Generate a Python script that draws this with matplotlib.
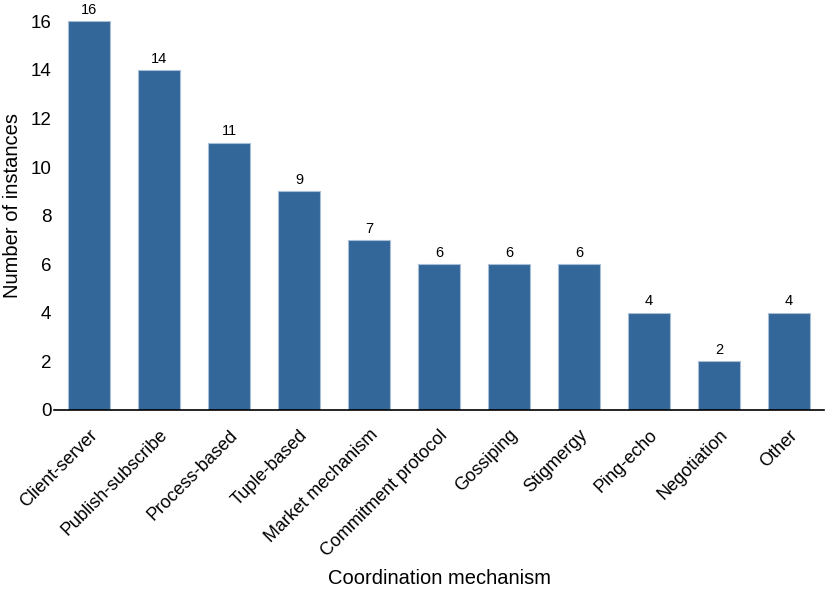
import matplotlib
matplotlib.use("Agg")
import matplotlib.pyplot as plt

plt.rcParams['font.family'] = ['Liberation Sans', 'DejaVu Sans']

mechanisms = ['Client-server', 'Publish-subscribe', 'Process-based', 'Tuple-based',
              'Market mechanism', 'Commitment protocol', 'Gossiping', 'Stigmergy',
              'Ping-echo', 'Negotiation', 'Other']
instances = [16, 14, 11, 9, 7, 6, 6, 6, 4, 2, 4]

fig = plt.figure(figsize=(8.3, 5.95), dpi=100)
ax = fig.add_axes([0.0651, 0.311, 0.9277, 0.6857])

x = range(len(mechanisms))
bars = ax.bar(x, instances, width=0.6, color='#336699', edgecolor='#a9bfd6', linewidth=0.8)

for xi, v in zip(x, instances):
    ax.text(xi, v + 0.18, str(v), ha='center', va='bottom', fontsize=10.5)

ax.set_xlim(-0.5, 10.5)
ax.set_ylim(0, 16.8)
ax.set_yticks(range(0, 17, 2))
ax.tick_params(axis='y', length=0, labelsize=13.5, pad=2)
ax.set_xticks(list(x))
ax.set_xticklabels(mechanisms, rotation=45, ha='right', rotation_mode='anchor', fontsize=13)
ax.tick_params(axis='x', length=0, pad=12)

for s in ['top', 'right', 'left']:
    ax.spines[s].set_visible(False)
ax.spines['bottom'].set_linewidth(1.2)

ax.set_ylabel('Number of instances', fontsize=14.5, labelpad=6)
fig.text(0.529, 0.028, 'Coordination mechanism', ha='center', va='center', fontsize=14.5)

fig.savefig('out.png', dpi=100)
